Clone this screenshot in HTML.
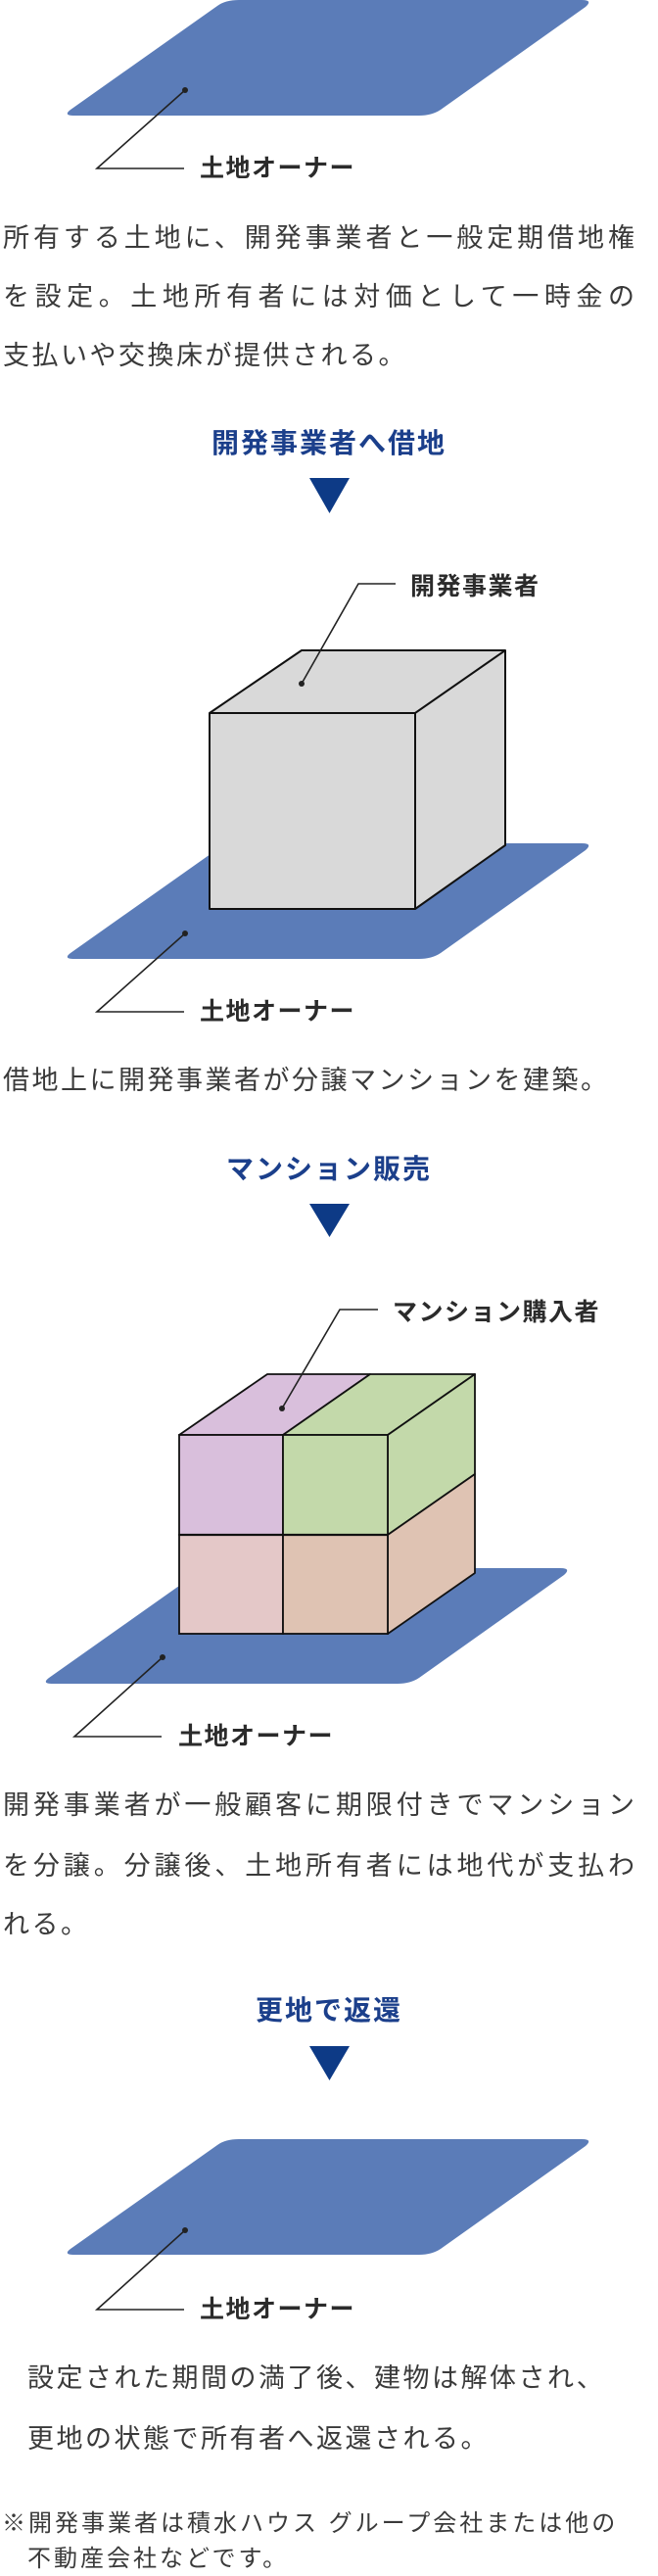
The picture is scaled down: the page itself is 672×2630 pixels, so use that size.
<!DOCTYPE html>
<html><head><meta charset="utf-8">
<style>
html,body{margin:0;padding:0;background:#fff;}
body{width:672px;height:2626px;position:relative;overflow:hidden;font-family:"Liberation Sans","Noto Sans CJK JP",sans-serif;}
svg{position:absolute;left:0;top:0;}
.t{position:absolute;white-space:nowrap;height:40px;line-height:40px;color:#3a3a3a;font-size:27px;}
.j{width:645px;text-align:justify;text-align-last:justify;letter-spacing:0;}
.l{letter-spacing:2.5px;}
.lab{position:absolute;white-space:nowrap;height:40px;line-height:40px;font-weight:bold;color:#2b2b2b;font-size:25px;letter-spacing:1.5px;}
.h{position:absolute;left:0;width:672px;text-align:center;height:40px;line-height:40px;font-weight:bold;color:#1b3f8b;font-size:28px;letter-spacing:2px;}
.n{position:absolute;white-space:nowrap;height:34px;line-height:34px;color:#3a3a3a;font-size:24px;letter-spacing:3px;}
</style></head><body>
<svg width="672" height="2626" viewBox="0 0 672 2626">
<defs>
<path id="plate" d="M76,118 Q64,118 72,112 L222,6 Q230,0 244,0 L594,0 Q606,0 598,7 L450,112 Q441,118 428,118 Z" fill="#5b7cb8"/>
</defs>
<use href="#plate" x="0" y="0"/>
<polyline points="189,92 99,172 188,172" fill="none" stroke="#222" stroke-width="1.6"/>
<circle cx="189" cy="92" r="3" fill="#222"/>
<polygon points="316,488 357,488 336.5,524" fill="#0d3a86"/>
<polygon points="316,1229 357,1229 336.5,1263" fill="#0d3a86"/>
<polygon points="316,2089 357,2089 336.5,2124" fill="#0d3a86"/>
<use href="#plate" x="0" y="861"/>
<polygon points="214,728 308,664 516,664 516,863 424,928 214,928" fill="#d9d9d9" stroke="#111" stroke-width="2" stroke-linejoin="round"/>
<polyline points="214,728 424,728 516,664" fill="none" stroke="#111" stroke-width="2"/>
<line x1="424" y1="728" x2="424" y2="928" stroke="#111" stroke-width="2"/>
<polyline points="404,596 366,596 308,698" fill="none" stroke="#222" stroke-width="1.6"/>
<circle cx="308" cy="698" r="3" fill="#222"/>
<polyline points="189,953 99,1033 188,1033" fill="none" stroke="#222" stroke-width="1.6"/>
<circle cx="189" cy="953" r="3" fill="#222"/>
<use href="#plate" x="-22" y="1601"/>
<polygon points="183,1465 273,1403 378,1403 289,1465" fill="#d9bfdc" stroke="#111" stroke-width="1.8" stroke-linejoin="round"/>
<polygon points="289,1465 378,1403 485,1403 396,1465" fill="#c3d9aa" stroke="#111" stroke-width="1.8" stroke-linejoin="round"/>
<polygon points="396,1465 485,1403 485,1505 396,1567" fill="#c3d9aa" stroke="#111" stroke-width="1.8" stroke-linejoin="round"/>
<polygon points="396,1567 485,1505 485,1606 396,1668" fill="#dfc3b3" stroke="#111" stroke-width="1.8" stroke-linejoin="round"/>
<rect x="183" y="1465" width="106" height="102" fill="#d9bfdc" stroke="#111" stroke-width="1.8"/>
<rect x="289" y="1465" width="107" height="102" fill="#c3d9aa" stroke="#111" stroke-width="1.8"/>
<rect x="183" y="1567" width="106" height="101" fill="#e4c8c8" stroke="#111" stroke-width="1.8"/>
<rect x="289" y="1567" width="107" height="101" fill="#dfc3b3" stroke="#111" stroke-width="1.8"/>
<line x1="183" y1="1567" x2="396" y2="1567" stroke="#111" stroke-width="2.2"/>
<polyline points="386,1337 347,1337 288,1438" fill="none" stroke="#222" stroke-width="1.6"/>
<circle cx="288" cy="1438" r="3" fill="#222"/>
<polyline points="166,1692 76,1773 165,1773" fill="none" stroke="#222" stroke-width="1.6"/>
<circle cx="166" cy="1692" r="3" fill="#222"/>
<use href="#plate" x="0" y="2184"/>
<polyline points="189,2277 99,2358 188,2358" fill="none" stroke="#222" stroke-width="1.6"/>
<circle cx="189" cy="2277" r="3" fill="#222"/>
</svg>

<div class="lab" style="left:204px;top:152px;">土地オーナー</div>
<div class="t j" style="left:3px;top:223px;">所有する土地に、開発事業者と一般定期借地権</div>
<div class="t j" style="left:3px;top:283px;">を設定。土地所有者には対価として一時金の</div>
<div class="t l" style="left:3px;top:343px;">支払いや交換床が提供される。</div>

<div class="h" style="top:433px;">開発事業者へ借地</div>
<div class="lab" style="left:419px;top:579px;">開発事業者</div>
<div class="lab" style="left:204px;top:1013px;">土地オーナー</div>
<div class="t l" style="left:3px;top:1083px;">借地上に開発事業者が分譲マンションを建築。</div>

<div class="h" style="top:1174px;">マンション販売</div>
<div class="lab" style="left:401px;top:1320px;">マンション購入者</div>
<div class="lab" style="left:182px;top:1753px;">土地オーナー</div>
<div class="t j" style="left:3px;top:1823px;">開発事業者が一般顧客に期限付きでマンション</div>
<div class="t j" style="left:3px;top:1885px;">を分譲。分譲後、土地所有者には地代が支払わ</div>
<div class="t l" style="left:3px;top:1945px;">れる。</div>

<div class="h" style="top:2033px;">更地で返還</div>
<div class="lab" style="left:204px;top:2338px;">土地オーナー</div>
<div class="t l" style="left:28px;top:2408px;">設定された期間の満了後、建物は解体され、</div>
<div class="t l" style="left:28px;top:2470px;">更地の状態で所有者へ返還される。</div>

<div class="n" style="left:2px;top:2560px;">※開発事業者は積水ハウス グループ会社または他の</div>
<div class="n" style="left:28px;top:2596px;">不動産会社などです。</div>
</body></html>
